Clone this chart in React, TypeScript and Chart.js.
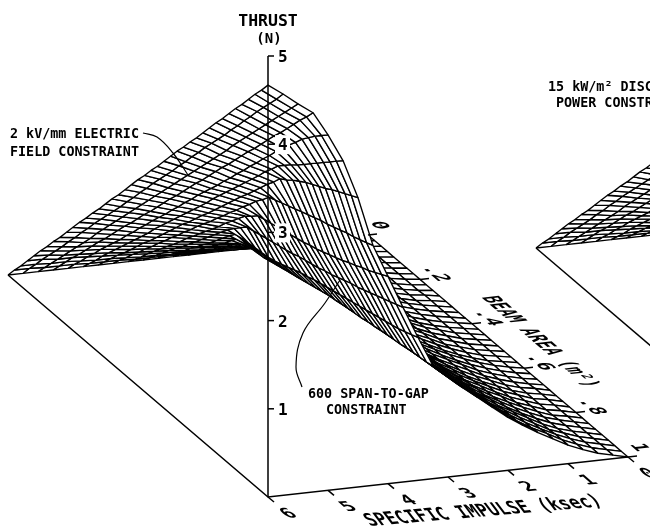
import React, { useEffect, useRef } from "react";
import { Chart, registerables } from "chart.js";

Chart.register(...registerables);

// grid of the surface: specific impulse (ksec) and beam area (m^2)
const ispGrid = [6, 5.75, 5.5, 5.25, 5, 4.75, 4.5, 4.25, 4, 3.75, 3.5, 3.25, 3, 2.75, 2.5, 2.25, 2, 1.75, 1.5, 1.25, 1, 0.75, 0.5, 0.25, 0];
const areaGrid = [0, .025, .05, .075, .1, .125, .15, .175, .2, .225, .25, .275, .3, .325, .35, .375, .4, .425, .45, .475, .5, .525, .55, .575, .6, .625, .65, .675, .7, .725, .75, .775, .8, .825, .85, .875, .9, .925, .95, .975, 1];

// thrust (N): one row per beam area, one column per specific impulse
const thrustRows = [
  [0, 0, 0, 0, 0, 0, 0, 0, 0, 0, 0, 0, 0, 0, 0, 0, 0, 0, 0, 0, 0, 0, 0, 0, 0],
  [.12, .12, .11, .11, .11, .10, .10, .10, .09, .09, .09, .09, .08, .08, .08, .07, .07, .07, .06, .06, .04, .03, .02, .01, 0],
  [.23, .23, .22, .22, .21, .20, .20, .19, .18, .18, .17, .17, .16, .15, .15, .14, .13, .13, .12, .11, .07, .05, .03, .01, 0],
  [.35, .35, .33, .33, .32, .31, .30, .29, .28, .27, .26, .25, .24, .23, .22, .21, .20, .18, .15, .12, .08, .06, .04, .02, 0],
  [.47, .46, .44, .43, .42, .41, .39, .38, .37, .36, .34, .33, .32, .31, .29, .28, .27, .22, .17, .13, .09, .06, .04, .02, 0],
  [.59, .57, .55, .54, .53, .51, .49, .48, .46, .45, .43, .42, .40, .39, .37, .33, .29, .24, .19, .14, .10, .07, .04, .02, 0],
  [.70, .68, .66, .65, .63, .61, .59, .57, .55, .53, .51, .50, .48, .46, .44, .38, .31, .25, .20, .15, .11, .07, .04, .02, 0],
  [.82, .80, .77, .76, .73, .71, .69, .67, .64, .62, .60, .58, .56, .51, .47, .40, .33, .27, .21, .16, .12, .08, .05, .02, 0],
  [.93, .91, .88, .86, .83, .81, .78, .76, .73, .71, .68, .66, .63, .56, .49, .42, .34, .28, .22, .17, .12, .08, .05, .02, 0],
  [1.05, 1.03, 1.00, .97, .94, .91, .88, .86, .83, .80, .77, .75, .67, .59, .51, .44, .36, .29, .23, .18, .13, .09, .05, .02, 0],
  [1.17, 1.14, 1.11, 1.08, 1.04, 1.01, .98, .95, .92, .89, .86, .83, .70, .61, .53, .45, .37, .30, .24, .18, .13, .09, .05, .02, 0],
  [1.29, 1.26, 1.22, 1.19, 1.15, 1.12, 1.08, 1.05, 1.01, .98, .95, .84, .72, .63, .55, .47, .38, .31, .25, .19, .14, .09, .05, .03, 0],
  [1.40, 1.37, 1.33, 1.29, 1.25, 1.22, 1.18, 1.14, 1.10, 1.07, 1.03, .85, .74, .65, .56, .48, .39, .32, .26, .20, .14, .09, .05, .03, 0],
  [1.52, 1.48, 1.44, 1.40, 1.36, 1.32, 1.28, 1.24, 1.19, 1.16, 1.04, .86, .76, .67, .58, .50, .41, .33, .27, .20, .15, .10, .06, .03, 0],
  [1.63, 1.59, 1.55, 1.51, 1.46, 1.42, 1.37, 1.33, 1.28, 1.24, 1.05, .87, .78, .69, .60, .51, .42, .34, .27, .21, .15, .10, .06, .03, 0],
  [1.75, 1.70, 1.66, 1.61, 1.56, 1.52, 1.47, 1.42, 1.38, 1.31, 1.06, .89, .80, .70, .61, .52, .43, .35, .28, .22, .15, .10, .06, .03, 0],
  [1.87, 1.82, 1.77, 1.72, 1.67, 1.62, 1.57, 1.52, 1.47, 1.38, 1.07, .91, .82, .72, .62, .53, .44, .36, .28, .22, .15, .10, .06, .03, 0],
  [1.98, 1.93, 1.88, 1.83, 1.77, 1.72, 1.66, 1.61, 1.56, 1.40, 1.08, .93, .83, .73, .63, .54, .44, .36, .28, .22, .15, .10, .06, .03, 0],
  [2.10, 2.05, 1.99, 1.94, 1.88, 1.82, 1.76, 1.71, 1.65, 1.42, 1.10, .95, .85, .75, .65, .55, .45, .37, .29, .23, .16, .11, .06, .03, 0],
  [2.22, 2.16, 2.10, 2.04, 1.98, 1.92, 1.86, 1.80, 1.71, 1.44, 1.13, .97, .87, .76, .66, .56, .46, .37, .30, .23, .16, .11, .06, .03, 0],
  [2.34, 2.28, 2.21, 2.15, 2.09, 2.03, 1.96, 1.90, 1.78, 1.46, 1.16, .99, .89, .78, .68, .57, .47, .38, .31, .24, .16, .11, .06, .03, 0],
  [2.45, 2.39, 2.32, 2.26, 2.19, 2.13, 2.06, 1.99, 1.80, 1.48, 1.19, 1.01, .90, .79, .69, .58, .48, .39, .31, .24, .16, .11, .06, .03, 0],
  [2.57, 2.50, 2.43, 2.37, 2.29, 2.23, 2.16, 2.09, 1.82, 1.50, 1.22, 1.03, .92, .80, .70, .59, .49, .40, .32, .24, .17, .11, .06, .03, 0],
  [2.68, 2.61, 2.54, 2.47, 2.39, 2.33, 2.25, 2.17, 1.84, 1.52, 1.24, 1.05, .93, .81, .71, .60, .49, .40, .32, .24, .17, .11, .06, .03, 0],
  [2.80, 2.73, 2.65, 2.58, 2.50, 2.43, 2.35, 2.26, 1.87, 1.55, 1.27, 1.07, .94, .83, .72, .61, .50, .41, .33, .25, .18, .12, .07, .03, 0],
  [2.92, 2.84, 2.76, 2.69, 2.60, 2.53, 2.45, 2.29, 1.88, 1.57, 1.29, 1.08, .95, .84, .73, .62, .51, .42, .33, .25, .18, .12, .07, .03, 0],
  [3.04, 2.96, 2.87, 2.80, 2.71, 2.63, 2.55, 2.32, 1.90, 1.59, 1.31, 1.10, .97, .85, .74, .63, .52, .42, .34, .26, .18, .12, .07, .03, 0],
  [3.15, 3.07, 2.98, 2.90, 2.81, 2.73, 2.64, 2.35, 1.92, 1.61, 1.33, 1.11, .98, .86, .75, .64, .52, .42, .34, .26, .18, .12, .07, .03, 0],
  [3.27, 3.19, 3.09, 3.01, 2.92, 2.84, 2.74, 2.38, 1.95, 1.64, 1.35, 1.12, 1.00, .87, .76, .64, .53, .43, .34, .26, .19, .12, .07, .04, 0],
  [3.38, 3.30, 3.20, 3.12, 3.02, 2.93, 2.79, 2.41, 1.97, 1.66, 1.37, 1.13, 1.01, .88, .77, .65, .53, .44, .34, .26, .19, .12, .07, .04, 0],
  [3.50, 3.41, 3.32, 3.23, 3.13, 3.03, 2.85, 2.44, 2.00, 1.69, 1.39, 1.15, 1.02, .89, .78, .66, .54, .44, .35, .27, .19, .13, .07, .04, 0],
  [3.62, 3.52, 3.43, 3.33, 3.23, 3.10, 2.90, 2.47, 2.03, 1.72, 1.41, 1.16, 1.03, .90, .79, .67, .55, .44, .36, .27, .19, .13, .07, .04, 0],
  [3.74, 3.64, 3.54, 3.44, 3.34, 3.17, 2.95, 2.50, 2.06, 1.75, 1.43, 1.18, 1.05, .92, .80, .68, .56, .45, .36, .28, .19, .13, .07, .04, 0],
  [3.85, 3.75, 3.65, 3.55, 3.44, 3.23, 2.99, 2.52, 2.09, 1.77, 1.45, 1.19, 1.06, .93, .80, .68, .56, .46, .36, .28, .20, .13, .07, .04, 0],
  [3.97, 3.87, 3.76, 3.66, 3.54, 3.30, 3.03, 2.55, 2.13, 1.80, 1.47, 1.20, 1.07, .94, .81, .69, .57, .46, .37, .28, .20, .13, .08, .04, 0],
  [4.09, 3.98, 3.87, 3.76, 3.63, 3.37, 3.07, 2.58, 2.16, 1.83, 1.49, 1.21, 1.08, .95, .82, .70, .57, .47, .37, .28, .20, .13, .08, .04, 0],
  [4.20, 4.10, 3.98, 3.87, 3.73, 3.44, 3.12, 2.61, 2.20, 1.86, 1.51, 1.23, 1.09, .95, .83, .70, .58, .47, .38, .29, .20, .13, .08, .04, 0],
  [4.32, 4.21, 4.09, 3.98, 3.81, 3.51, 3.16, 2.63, 2.23, 1.89, 1.53, 1.24, 1.10, .96, .83, .71, .58, .48, .38, .29, .20, .14, .08, .04, 0],
  [4.44, 4.32, 4.20, 4.09, 3.89, 3.58, 3.20, 2.66, 2.27, 1.92, 1.56, 1.25, 1.11, .97, .84, .72, .59, .48, .38, .29, .21, .14, .08, .04, 0],
  [4.55, 4.43, 4.31, 4.19, 3.96, 3.65, 3.24, 2.69, 2.31, 1.95, 1.59, 1.26, 1.12, .98, .85, .72, .60, .48, .38, .30, .21, .14, .08, .04, 0],
  [4.67, 4.55, 4.42, 4.30, 4.03, 3.72, 3.28, 2.72, 2.35, 1.98, 1.62, 1.28, 1.13, .99, .86, .73, .60, .49, .39, .30, .21, .14, .08, .04, 0],
];

const thrustTicks = [1, 2, 3, 4, 5];
const ispTicks = [6, 5, 4, 3, 2, 1, 0];
const areaTicks = [0, 0.2, 0.4, 0.6, 0.8, 1];
const areaTickLabels = ["0", ".2", ".4", ".6", ".8", "1"];

const fieldLeader = [{ x: 143, y: 133 }, { x: 157, y: 137 }, { x: 173, y: 153 }, { x: 188, y: 175 }];
const gapLeader = [{ x: 302, y: 387 }, { x: 296, y: 367 }, { x: 303, y: 333 }, { x: 325, y: 303 }, { x: 340, y: 280 }];

type Pt = { x: number; y: number };
const project = (isp: number, area: number, thrust: number, dx = 0, dy = 0): Pt => ({
  x: 268 + (6 - isp) * 60 - (1 - area) * 260 + dx,
  y: 497 - (6 - isp) * 6.67 - (1 - area) * 222 - thrust * 88.2 + dy,
});
const PANEL2 = { dx: 528, dy: -27 };
const FONT = '"DejaVu Sans Mono", monospace';

function line(data: Pt[], extra: object = {}) {
  return { data, showLine: true, borderColor: "#000", borderWidth: 1.5, pointRadius: 0, fill: false, tension: 0, ...extra };
}

function surface(dx: number, dy: number, maxX: number) {
  const out: object[] = [];
  for (let r = areaGrid.length - 2; r >= 0; r--) {
    for (let c = 0; c < ispGrid.length - 1; c++) {
      const a = project(ispGrid[c], areaGrid[r], thrustRows[r][c], dx, dy);
      if (a.x > maxX) continue;
      const cell = [
        a,
        project(ispGrid[c + 1], areaGrid[r], thrustRows[r][c + 1], dx, dy),
        project(ispGrid[c + 1], areaGrid[r + 1], thrustRows[r + 1][c + 1], dx, dy),
        project(ispGrid[c], areaGrid[r + 1], thrustRows[r + 1][c], dx, dy),
        a,
      ];
      out.push(line(cell, { fill: "shape", backgroundColor: "#fff", borderWidth: 1.35, borderJoinStyle: "bevel" }));
    }
  }
  return out;
}

const textPlugin = {
  id: "paperText",
  afterDraw(chart: any) {
    const { ctx, scales } = chart;
    const X = (v: number) => scales.x.getPixelForValue(v);
    const Y = (v: number) => scales.y.getPixelForValue(v);
    const plain = (s: string, x: number, y: number, size = 13.4, align: CanvasTextAlign = "left") => {
      ctx.font = `bold ${size}px ${FONT}`;
      ctx.textAlign = align;
      ctx.textBaseline = "alphabetic";
      ctx.fillStyle = "#000";
      ctx.fillText(s, X(x), Y(y));
    };
    // text lying in the base plane, sheared like the plotter drew it
    const inPlane = (s: string, p: Pt, m: number[], size: number) => {
      ctx.save();
      ctx.transform(m[0], m[1], m[2], m[3], X(p.x), Y(p.y));
      ctx.font = `bold ${size}px ${FONT}`;
      ctx.textAlign = "left";
      ctx.textBaseline = "alphabetic";
      ctx.fillStyle = "#000";
      ctx.fillText(s, 0, 0);
      ctx.restore();
    };
    ctx.save();
    plain("THRUST", 268, 26, 16.5, "center");
    plain("(N)", 269, 43, 14, "center");
    plain("2 kV/mm ELECTRIC", 10, 138);
    plain("FIELD CONSTRAINT", 10, 156);
    plain("600 SPAN-TO-GAP", 308, 398);
    plain("CONSTRAINT", 326, 414);
    plain("15 kW/m² DISC", 548, 91);
    plain("POWER CONSTR", 556, 107);

    thrustTicks.forEach((t) => {
      const p = project(6, 1, t);
      const label = String(t);
      if (t === 3 || t === 4) {
        ctx.fillStyle = "#fff";
        ctx.fillRect(X(p.x) + 7, Y(p.y) - 9, 15, 19);
      }
      plain(label, p.x + 10, p.y + 6, 16);
    });

    const ispM = [0.994, -0.085, 0.76, 0.65];
    ispTicks.forEach((v) => {
      const p = project(v, 1, 0, 19, 21);
      inPlane(String(v), p, ispM, 20);
    });
    inPlane("SPECIFIC IMPULSE (ksec)", { x: 370, y: 526 }, [0.994, -0.085, 0.76, 1.0], 17);

    const areaM = [0.76, 0.65, -0.994, 0.11];
    areaTicks.forEach((v, i) => {
      const p = project(0, v, 0, 1, -13);
      inPlane(areaTickLabels[i], p, areaM, 20);
    });
    inPlane("BEAM AREA (m²)", { x: 481, y: 297 }, [0.76, 0.65, -1.4, 0.15], 16.5);
    ctx.restore();
  },
};

export default function App() {
  const ref = useRef<HTMLCanvasElement>(null);
  useEffect(() => {
    document.body.style.margin = "0";
    document.body.style.background = "#fff";
    const datasets: object[] = [];

    // overlays first: Chart.js paints the first dataset on top
    datasets.push(line([project(6, 1, 5.0), project(6, 1, 0)]));
    thrustTicks.forEach((t) => {
      const p = project(6, 1, t);
      datasets.push(line([p, { x: p.x + 6, y: p.y }]));
    });
    ispTicks.forEach((v) => {
      const p = project(v, 1, 0);
      datasets.push(line([p, { x: p.x + 6, y: p.y + 5 }]));
    });
    areaTicks.forEach((v) => {
      const p = project(0, v, 0);
      datasets.push(line([p, { x: p.x + 9, y: p.y - 1 }]));
    });
    datasets.push(line(fieldLeader, { tension: 0.4, borderWidth: 1.2 }));
    datasets.push(line(gapLeader, { tension: 0.4, borderWidth: 1.2 }));

    datasets.push(...surface(0, 0, 700));
    // base outline of the main panel
    datasets.push(line([project(6, 0, 0), project(6, 1, 0), project(0, 1, 0)]));

    // second panel, cut off by the edge of the page
    datasets.push(...surface(PANEL2.dx, PANEL2.dy, 660));
    datasets.push(line([project(6, 0, 0, PANEL2.dx, PANEL2.dy), project(6, 1, 0, PANEL2.dx, PANEL2.dy)]));

    const chart = new Chart(ref.current!, {
      type: "scatter",
      data: { datasets } as any,
      options: {
        responsive: false,
        animation: false,
        events: [],
        layout: { padding: 0 },
        plugins: { legend: { display: false }, tooltip: { enabled: false } },
        scales: {
          x: { type: "linear", min: 0, max: 650, display: false },
          y: { type: "linear", min: 0, max: 527, reverse: true, display: false },
        },
      } as any,
      plugins: [textPlugin],
    });
    return () => chart.destroy();
  }, []);
  return <canvas ref={ref} width={650} height={527} style={{ display: "block" }} />;
}
